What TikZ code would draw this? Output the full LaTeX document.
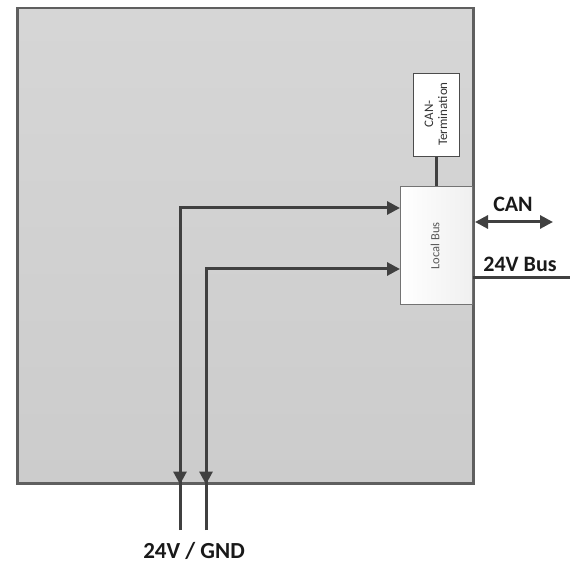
\documentclass[tikz,border=0pt]{standalone}
\usepackage{fontspec}
\setmainfont{Carlito}
\usetikzlibrary{arrows.meta}
\definecolor{linegray}{HTML}{404040}
\definecolor{boxedge}{HTML}{5F5F5F}
\tikzset{
  outerbox/.style={draw=boxedge, line width=2.5pt, top color=black!16, bottom color=black!20, inner sep=0pt, anchor=north west},
  busbox/.style={draw=black!55, line width=0.8pt, left color=white, right color=black!6, inner sep=0pt, anchor=north west},
  termbox/.style={draw=black!70, line width=0.8pt, fill=white, inner sep=0pt, anchor=north west},
  conn/.style={draw=linegray, line width=3pt},
  tip/.style={-{Triangle[length=13pt,width=13pt]}},
  lbl/.style={font=\fontsize{22}{24}\selectfont\bfseries, text=black!90, inner sep=0pt}
}
\begin{document}
\begin{tikzpicture}[x=1pt,y=-1pt]
\useasboundingbox (0,0) rectangle (571,564);
\node[outerbox, minimum width=456pt, minimum height=475pt] (board) at (16,7) {};
\node[busbox, minimum width=72pt, minimum height=118pt] (bus) at (400,186) {};
\node[termbox, minimum width=46pt, minimum height=83pt] (term) at (413,73) {};
\node[rotate=90, text=black!65, font=\fontsize{12.5}{14}\selectfont, inner sep=0pt] (buslbl) at (435,246) {Local Bus};
\node[rotate=90, text=black!80, font=\fontsize{13}{14}\selectfont, align=center, inner sep=0pt] (termlbl) at (436,114) {CAN-\\Termination};
\coordinate (b1) at (180,530);
\coordinate (b2) at (206,530);
\coordinate (c1) at (180,208);
\coordinate (c2) at (206,269);
\draw[conn, tip] (b1) -- (c1) -- (bus.west |- c1);
\draw[conn, tip] (b2) -- (c2) -- (bus.west |- c2);
\draw[conn, tip] (c1) -- (c1 |- board.south);
\draw[conn, tip] (c2) -- (c2 |- board.south);
\draw[conn] (term.south) -- (term.south |- bus.north);
\coordinate (canL) at (475,222);
\coordinate (canR) at (553,222);
\draw[conn, {Triangle[length=13pt,width=13pt]}-{Triangle[length=13pt,width=13pt]}] (canL) -- (canR);
\coordinate (vbus) at (570,278);
\draw[conn] (bus.east |- vbus) -- (vbus);
\node[lbl] (canlbl) at (513,204.5) {CAN};
\node[lbl] (vlbl) at (520,264) {24V Bus};
\node[lbl, font=\fontsize{23}{24}\selectfont\bfseries] (gnd) at (194,551) {24V / GND};
\end{tikzpicture}
\end{document}
